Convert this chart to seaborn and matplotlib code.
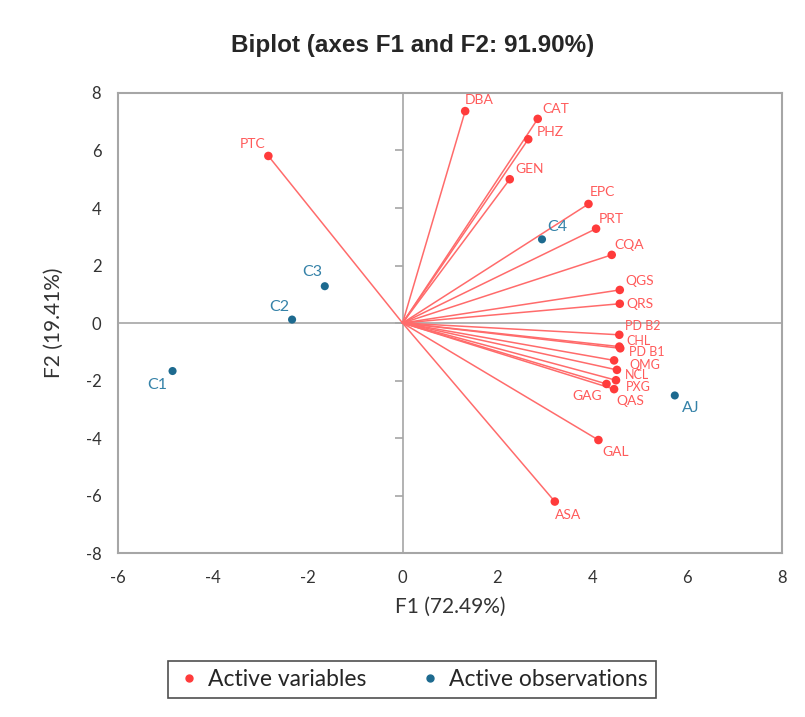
import matplotlib.pyplot as plt
import seaborn as sns
import numpy as np
import pandas as pd

sns.set_theme(style="white")
plt.rcParams['font.family'] = ['Lato', 'DejaVu Sans']

# Active variables (loadings on F1 / F2)
var_names = ['DBA', 'CAT', 'PHZ', 'GEN', 'EPC', 'PRT', 'CQA', 'QGS', 'QRS',
             'PD B2', 'CHL', 'PD B1', 'QMG', 'NCL', 'PXG', 'GAG', 'QAS',
             'GAL', 'ASA', 'PTC']
var_f1 = [1.32, 2.85, 2.65, 2.26, 3.92, 4.08, 4.41, 4.58, 4.58,
          4.57, 4.57, 4.59, 4.46, 4.52, 4.50, 4.30, 4.46,
          4.13, 3.21, -2.83]
var_f2 = [7.37, 7.10, 6.39, 5.00, 4.14, 3.28, 2.37, 1.15, 0.67,
          -0.41, -0.82, -0.88, -1.30, -1.63, -1.99, -2.12, -2.30,
          -4.07, -6.21, 5.81]

# Active observations
obs_names = ['C1', 'C2', 'C3', 'C4', 'AJ']
obs_f1 = [-4.85, -2.33, -1.64, 2.94, 5.74]
obs_f2 = [-1.67, 0.12, 1.28, 2.91, -2.52]

# label offsets in points (dx, dy, ha, va)
var_offsets = {
    'DBA': (0, 4, 'left', 'bottom'), 'CAT': (3, 3, 'left', 'bottom'),
    'PHZ': (6, 1, 'left', 'bottom'), 'GEN': (4, 3, 'left', 'bottom'),
    'EPC': (1, 4, 'left', 'bottom'), 'PRT': (2, 3, 'left', 'bottom'),
    'CQA': (2, 3, 'left', 'bottom'), 'QGS': (4, 2, 'left', 'bottom'),
    'QRS': (5, 0, 'left', 'center'), 'PD B2': (4, 6, 'left', 'center'),
    'CHL': (5, 4, 'left', 'center'), 'PD B1': (6, -3, 'left', 'center'),
    'QMG': (11, -3, 'left', 'center'), 'NCL': (6, -4, 'left', 'center'),
    'PXG': (7, -5, 'left', 'center'), 'GAG': (-3, -9, 'right', 'center'),
    'QAS': (2, -8.5, 'left', 'center'), 'GAL': (3, -4, 'left', 'top'),
    'ASA': (0, -5, 'left', 'top'), 'PTC': (-2, 4, 'right', 'bottom'),
}
crowded = {'PD B2', 'CHL', 'PD B1', 'QMG', 'NCL', 'PXG'}
obs_offsets = {
    'C1': (-4, -5, 'right', 'top'), 'C2': (-2, 4, 'right', 'bottom'),
    'C3': (-2, 5, 'right', 'bottom'), 'C4': (4, 4, 'left', 'bottom'),
    'AJ': (5, -9, 'left', 'center'),
}

red_dot = '#FF3B3B'
red_line = '#FF6B6B'
red_text = '#FF5A5A'
blue_dot = '#1D6A8F'
blue_text = '#3582A8'
grey = '#A6A6A6'

df_var = pd.DataFrame({'F1': var_f1, 'F2': var_f2, 'name': var_names})
df_obs = pd.DataFrame({'F1': obs_f1, 'F2': obs_f2, 'name': obs_names})

fig = plt.figure(figsize=(8.05, 7.17), dpi=100)
ax = fig.add_axes([0.1466, 0.2287, 0.8248, 0.6416])

ax.axhline(0, color=grey, lw=1.2, zorder=1)
ax.axvline(0, color=grey, lw=1.2, zorder=1)

for x, y in zip(var_f1, var_f2):
    ax.plot([0, x], [0, y], color=red_line, lw=1.1, zorder=2)

sns.scatterplot(data=df_var, x='F1', y='F2', color=red_dot, s=38,
                edgecolor='none', ax=ax, zorder=3, legend=False)
sns.scatterplot(data=df_obs, x='F1', y='F2', color=blue_dot, s=34,
                edgecolor='none', ax=ax, zorder=3, legend=False)

for n, x, y in zip(var_names, var_f1, var_f2):
    dx, dy, ha, va = var_offsets[n]
    ax.annotate(n, (x, y), xytext=(dx, dy), textcoords='offset points',
                ha=ha, va=va, fontsize=9 if n in crowded else 10,
                color=red_text)
for n, x, y in zip(obs_names, obs_f1, obs_f2):
    dx, dy, ha, va = obs_offsets[n]
    ax.annotate(n, (x, y), xytext=(dx, dy), textcoords='offset points',
                ha=ha, va=va, fontsize=11.5, color=blue_text)

ax.set_xlim(-6, 8)
ax.set_ylim(-8, 8)
xt = np.arange(-6, 9, 2)
yt = np.arange(-8, 9, 2)
ax.set_xticks(xt)
ax.set_yticks(yt)
ax.set_xticklabels([str(v) for v in xt])
ax.set_yticklabels([str(v) for v in yt])
ax.tick_params(axis='both', length=0, labelsize=12, colors='#333333', pad=12)

# tick marks on the vertical zero line
ax.plot(np.zeros(len(yt)), yt, linestyle='none', marker=[(-1, 0), (0, 0)],
        markersize=12, color=grey, mew=1.2, clip_on=False, zorder=1)

for s in ax.spines.values():
    s.set_color(grey)
    s.set_linewidth(1.5)

ax.set_xlabel('F1 (72.49%)', fontsize=15, color='#333333', labelpad=8)
ax.set_ylabel('F2 (19.41%)', fontsize=15, color='#333333', labelpad=16)
fig.text(0.512, 0.937, 'Biplot (axes F1 and F2: 91.90%)', ha='center', va='center',
         fontsize=17.5, fontweight='bold', family=['Liberation Sans', 'DejaVu Sans'])

handles = [
    plt.Line2D([], [], marker='o', linestyle='none', color=red_dot, markersize=5,
               label='Active variables'),
    plt.Line2D([], [], marker='o', linestyle='none', color=blue_dot, markersize=5,
               label='Active observations'),
]
leg = fig.legend(handles=handles, loc='center', bbox_to_anchor=(0.512, 0.052), ncol=2,
                 fontsize=16.5, frameon=True, fancybox=False, edgecolor='#222222',
                 handletextpad=0.3, columnspacing=2.2, borderpad=0.35,
                 handlelength=1.1, borderaxespad=0)
leg.get_frame().set_linewidth(1.2)

fig.savefig('out.png', dpi=100)
